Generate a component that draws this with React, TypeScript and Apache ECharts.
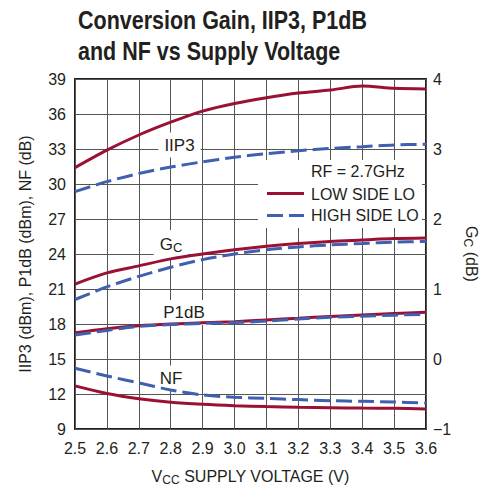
import React, { useEffect, useRef } from "react";
import * as echarts from "echarts";

const voltages = ["2.5", "2.6", "2.7", "2.8", "2.9", "3.0", "3.1", "3.2", "3.3", "3.4", "3.5", "3.6"];

// left axis: IIP3 (dBm), P1dB (dBm), NF (dB)
const iip3Low = [31.4, 32.9, 34.2, 35.3, 36.25, 36.9, 37.4, 37.8, 38.05, 38.4, 38.2, 38.15];
const iip3High = [29.35, 30.2, 30.9, 31.45, 31.9, 32.3, 32.6, 32.85, 33.05, 33.2, 33.35, 33.4];
const p1dbLow = [17.25, 17.6, 17.85, 18.0, 18.1, 18.2, 18.35, 18.5, 18.65, 18.78, 18.9, 19.0];
const p1dbHigh = [17.05, 17.45, 17.8, 17.95, 18.05, 18.12, 18.25, 18.43, 18.57, 18.67, 18.76, 18.83];
const nfLow = [12.7, 12.05, 11.6, 11.3, 11.12, 11.0, 10.92, 10.86, 10.82, 10.79, 10.77, 10.72];
const nfHigh = [14.2, 13.55, 12.95, 12.35, 11.92, 11.72, 11.62, 11.52, 11.43, 11.37, 11.31, 11.23];
// right axis: Gc (dB)
const gcLow = [1.07, 1.23, 1.33, 1.43, 1.5, 1.56, 1.61, 1.65, 1.68, 1.7, 1.72, 1.73];
const gcHigh = [0.85, 1.03, 1.18, 1.31, 1.42, 1.5, 1.56, 1.6, 1.63, 1.65, 1.67, 1.68];

const RED = "#9B1133";
const BLUE = "#3F5FAF";
const TEXT = "#231F20";
const FONT = "'Liberation Sans', Arial, sans-serif";
const FS = 16;

export default function App() {
  const ref = useRef<HTMLDivElement>(null);
  useEffect(() => {
    if (!ref.current) return;
    const chart = echarts.init(ref.current, undefined, { renderer: "svg" });
    const lowStyle = { color: RED, width: 3, type: "solid" as const };
    const highStyle = { color: BLUE, width: 3, type: [16, 6] as any };
    const mk = (name: string, data: number[], high: boolean, yAxisIndex = 0) => ({
      name,
      type: "line",
      data,
      yAxisIndex,
      smooth: 0.3,
      symbol: "none",
      z: high ? 4 : 3,
      lineStyle: high ? highStyle : lowStyle,
      itemStyle: { color: high ? BLUE : RED },
    });
    const subRich = { sub: { fontSize: 12, fontFamily: FONT, color: TEXT, fill: TEXT, padding: [7, 0, 0, 0] } };
    const label = (text: string, x: number, y: number, rich?: any) => ({
      type: "text",
      x,
      y,
      z: 1,
      style: {
        text,
        fontFamily: FONT,
        fontSize: 17,
        fill: TEXT,
        align: "center",
        verticalAlign: "middle",
        backgroundColor: "#fff",
        padding: [4, 6, 4, 6],
        rich,
      },
    });
    const titleText = (text: string, y: number) => ({
      type: "text",
      x: 78,
      y,
      scaleX: 0.86,
      style: { text, fontFamily: FONT, fontWeight: "bold", fontSize: 25, fill: TEXT },
    });
    chart.setOption({
      animation: false,
      textStyle: { fontFamily: FONT },
      grid: {
        left: 75,
        top: 79,
        width: 351,
        height: 351,
        show: true,
        borderColor: TEXT,
        borderWidth: 2,
        backgroundColor: "transparent",
      },
      xAxis: {
        type: "category",
        data: voltages,
        boundaryGap: false,
        axisLine: { show: false },
        axisTick: { show: false },
        axisLabel: { color: TEXT, fontSize: FS, fontFamily: FONT, margin: 11, interval: 0 },
        splitLine: { show: true, lineStyle: { color: "#555", width: 1 } },
        name: "V{sub|CC} SUPPLY VOLTAGE (V)",
        nameLocation: "middle",
        nameGap: 38,
        nameTextStyle: { color: TEXT, fontSize: FS, fontFamily: FONT, rich: subRich },
      },
      yAxis: [
        {
          type: "value",
          min: 9,
          max: 39,
          interval: 3,
          axisLine: { show: false },
          axisTick: { show: false },
          axisLabel: { color: TEXT, fontSize: FS, fontFamily: FONT, margin: 9 },
          splitLine: { show: true, lineStyle: { color: "#555", width: 1 } },
          name: "IIP3 (dBm), P1dB (dBm), NF (dB)",
          nameLocation: "middle",
          nameRotate: 90,
          nameGap: 42,
          nameTextStyle: { color: TEXT, fontSize: FS, fontFamily: FONT },
        },
        {
          type: "value",
          min: -1,
          max: 4,
          interval: 1,
          position: "right",
          axisLine: { show: false },
          axisTick: { show: false },
          axisLabel: {
            color: TEXT,
            fontSize: FS,
            fontFamily: FONT,
            margin: 7,
            formatter: (v: number) => (v < 0 ? "\u2212" + Math.abs(v) : String(v)),
          },
          splitLine: { show: false },
          name: "G{sub|C} (dB)",
          nameLocation: "middle",
          nameRotate: -90,
          nameGap: 25,
          nameTextStyle: { color: TEXT, fontSize: FS, fontFamily: FONT, rich: subRich },
        },
      ],
      graphic: [
        titleText("Conversion Gain, IIP3, P1dB", 8),
        titleText("and NF vs Supply Voltage", 39),
        { type: "rect", z: 1, shape: { x: 258, y: 160, width: 164, height: 68 }, style: { fill: "#fff" } },
        {
          type: "text", z: 1, x: 311, y: 171,
          style: { text: "RF = 2.7GHz", fontFamily: FONT, fontSize: FS, fill: TEXT, verticalAlign: "middle" },
        },
        {
          type: "line", z: 1, shape: { x1: 267, y1: 193.5, x2: 304, y2: 193.5 },
          style: { stroke: RED, lineWidth: 3 },
        },
        {
          type: "text", z: 1, x: 311, y: 194,
          style: { text: "LOW SIDE LO", fontFamily: FONT, fontSize: FS, fill: TEXT, verticalAlign: "middle" },
        },
        {
          type: "line", z: 1, shape: { x1: 267, y1: 215.5, x2: 304, y2: 215.5 },
          style: { stroke: BLUE, lineWidth: 3, lineDash: [16, 6] },
        },
        {
          type: "text", z: 1, x: 311, y: 215.5,
          style: { text: "HIGH SIDE LO", fontFamily: FONT, fontSize: FS, fill: TEXT, verticalAlign: "middle" },
        },
        label("IIP3", 179.5, 145),
        label("G{sub|C}", 171, 244, { sub: { fontSize: 13, fontFamily: FONT, fill: TEXT, padding: [7, 0, 0, 0] } }),
        label("P1dB", 184, 312.5),
        label("NF", 171, 378),
      ],
      series: [
        mk("IIP3 LOW SIDE LO", iip3Low, false),
        mk("IIP3 HIGH SIDE LO", iip3High, true),
        mk("GC LOW SIDE LO", gcLow, false, 1),
        mk("GC HIGH SIDE LO", gcHigh, true, 1),
        mk("P1dB LOW SIDE LO", p1dbLow, false),
        mk("P1dB HIGH SIDE LO", p1dbHigh, true),
        mk("NF LOW SIDE LO", nfLow, false),
        mk("NF HIGH SIDE LO", nfHigh, true),
      ],
    });
    return () => chart.dispose();
  }, []);
  return <div ref={ref} style={{ width: 489, height: 491, position: "absolute", left: 0, top: 0 }} />;
}
